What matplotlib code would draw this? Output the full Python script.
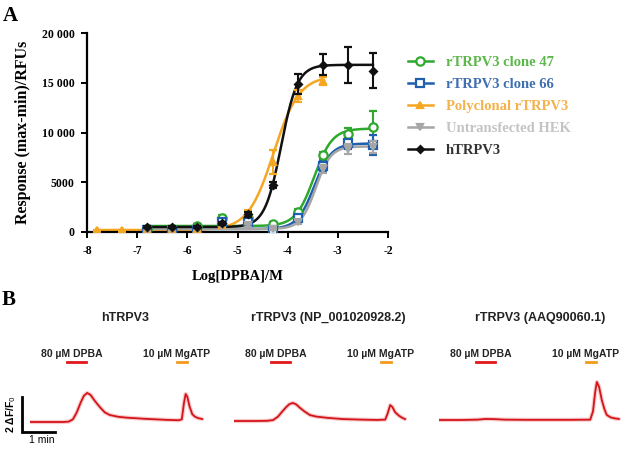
import numpy as np
import matplotlib
matplotlib.use("Agg")
import matplotlib.pyplot as plt
from matplotlib.transforms import blended_transform_factory

# ---------------- Panel A data ----------------
clone47_x = [-6.8, -6.3, -5.8, -5.3, -4.8, -4.3, -3.8, -3.3, -2.8, -2.3]
clone47_y = [300, 300, 600, 1400, 1400, 800, 2000, 7700, 9800, 10600]
clone47_e = [150, 150, 200, 300, 300, 200, 300, 350, 700, 1600]

clone66_x = [-6.8, -6.3, -5.8, -5.3, -4.8, -4.3, -3.8, -3.3, -2.8, -2.3]
clone66_y = [200, 100, 200, 1000, 1000, 250, 1400, 6600, 8900, 8700]
clone66_e = [150, 150, 150, 300, 250, 150, 300, 500, 600, 1000]

poly_x = [-7.8, -7.3, -6.8, -6.3, -5.8, -5.3, -4.8, -4.3, -3.8, -3.3]
poly_y = [200, 200, 250, 250, 300, 700, 1900, 7000, 13700, 15200]
poly_e = [50, 50, 50, 50, 80, 150, 300, 1200, 600, 400]

hek_x = [-6.8, -6.3, -5.8, -5.3, -4.8, -4.3, -3.8, -3.3, -2.8, -2.3]
hek_y = [200, 200, 300, 600, 700, 300, 1000, 6300, 8300, 8500]
hek_e = [100, 100, 100, 150, 150, 100, 200, 400, 500, 600]

h_x = [-6.8, -6.3, -5.8, -5.3, -4.8, -4.3, -3.8, -3.3, -2.8, -2.3]
h_y = [500, 500, 500, 900, 1800, 4700, 14900, 16800, 16800, 16200]
h_e = [100, 100, 100, 150, 250, 300, 1000, 1050, 1800, 1750]

# Fitted Hill parameters: bottom, top, logEC50, hill slope, x range
fit_clone47 = [600, 10400, -3.475, 2.39, -6.8, -2.3]
fit_clone66 = [300, 8900, -3.47, 2.55, -6.8, -2.3]
fit_poly = [200, 15700, -4.28, 1.7, -7.8, -3.3]
fit_hek = [300, 8600, -3.44, 2.9, -6.8, -2.3]
fit_h = [500, 16800, -4.13, 2.67, -6.8, -2.3]

labels = ["rTRPV3 clone 47", "rTRPV3 clone 66", "Polyclonal rTRPV3",
          "Untransfected HEK", "hTRPV3"]
colors = ["#2fa82f", "#1f5fae", "#f5a623", "#a6a6a6", "#111111"]
text_colors = ["#5cb84a", "#3f6fb0", "#f3b24a", "#c4c4c4", "#333333"]

yticks = [0, 5000, 10000, 15000, 20000]
yticklabels = ["0", "5000", "10 000", "15 000", "20 000"]
xticks = [-8, -7, -6, -5, -4, -3, -2]

# ---------------- Panel B data ----------------
panel_titles = ["hTRPV3", "rTRPV3 (NP_001020928.2)", "rTRPV3 (AAQ90060.1)"]

t1 = [0, 20, 40, 60, 70, 78, 85, 92, 98, 104, 110, 118, 127, 136, 145, 160, 175, 190,
      210, 230, 250, 270, 276, 280, 283, 286, 290, 295, 300, 306, 313]
f1 = [0, 0, 0, 0, 0.02, 0.15, 0.55, 1.1, 1.5, 1.66, 1.55, 1.2, 0.85, 0.55, 0.4, 0.3, 0.25, 0.22,
      0.18, 0.15, 0.12, 0.1, 0.15, 1.1, 1.6, 1.45, 0.9, 0.45, 0.3, 0.22, 0.17]

t2 = [0, 20, 40, 60, 71, 80, 88, 95, 101, 107, 113, 120, 128, 138, 150, 170, 198, 230,
      260, 275, 279, 284, 288, 293, 300, 306, 311]
f2 = [0, 0, 0, 0.01, 0.05, 0.25, 0.55, 0.8, 0.97, 1.03, 0.95, 0.75, 0.55, 0.34, 0.25, 0.18, 0.11, 0.08,
      0.06, 0.08, 0.4, 0.91, 0.8, 0.5, 0.3, 0.18, 0.11]

t3 = [0, 40, 70, 85, 100, 120, 160, 200, 240, 275, 280, 284, 287, 291, 296, 301, 305, 312, 320, 327]
f3 = [0, 0, 0.02, 0.06, 0.05, 0.02, 0.01, 0.01, 0.01, 0.02, 0.5, 1.6, 2.17, 1.9, 1.14, 0.6, 0.29, 0.15, 0.09, 0.06]

dpba_on = [67, 102]
atp_on = [268, 286]
stim_labels = ["80 \u00b5M DPBA", "10 \u00b5M MgATP"]
stim_label_t = [76, 267]

# ---------------- Figure ----------------
W, H = 630, 454
fig = plt.figure(figsize=(W / 100, H / 100), dpi=100)

def fx(px):
    return px / W

def fy(py):
    return 1 - py / H

serif = "Liberation Serif"
sans = "Liberation Sans"

ax = fig.add_axes([fx(87), fy(232), fx(388) - fx(87), fy(33) - fy(232)])

def hill(p):
    b, t, ec, h, x0, x1 = p
    xs = np.linspace(x0, x1, 300)
    return xs, b + (t - b) / (1 + 10 ** ((ec - xs) * h))

series = [
    (clone47_x, clone47_y, clone47_e, fit_clone47, "o", "white"),
    (clone66_x, clone66_y, clone66_e, fit_clone66, "s", "white"),
    (poly_x, poly_y, poly_e, fit_poly, "^", None),
    (hek_x, hek_y, hek_e, fit_hek, "v", None),
    (h_x, h_y, h_e, fit_h, "D", None),
]
order = [3, 1, 0, 2, 4]
handles = [None] * 5
for i in order:
    xs, ys, es, fp, mk, mfc = series[i]
    c = colors[i]
    cx, cy = hill(fp)
    ax.plot(cx, cy, color=c, lw=1.8, zorder=2 + i * 0.1)
    ms = 6 if mk in "os" else (5 if mk in "^v" else 3.5)
    ax.errorbar(xs, ys, yerr=es, fmt=mk, color=c, ms=ms,
                mfc=(mfc if mfc else c), mec=c, mew=1.6,
                ecolor=c, elinewidth=1.5, capsize=3, capthick=1.5,
                zorder=3 + i * 0.1)
    (h,) = ax.plot([], [], color=c, lw=1.8, marker=mk, ms=ms,
                   mfc=(mfc if mfc else c), mec=c, mew=1.6)
    handles[i] = h

ax.set_xlim(-8, -2)
ax.set_ylim(0, 20000)
ax.set_xticks(xticks)
ax.set_xticklabels([str(v) for v in xticks], fontfamily=serif, fontweight="bold", fontsize=8.5)
ax.set_yticks(yticks)
ax.set_yticklabels(yticklabels, fontfamily=serif, fontweight="bold", fontsize=8.5)
for s in ["top", "right"]:
    ax.spines[s].set_visible(False)
for s in ["left", "bottom"]:
    ax.spines[s].set_linewidth(1.6)
ax.tick_params(direction="out", length=4, width=1.4, pad=5)
ax.set_xlabel("Log[DPBA]/M", fontfamily=serif, fontweight="bold", fontsize=10.5, labelpad=10)
ax.set_ylabel("Response (max-min)/RFUs", fontfamily=serif, fontweight="bold", fontsize=11.5, labelpad=8)

leg = fig.legend(handles, labels, loc="upper left", bbox_to_anchor=(fx(408), fy(56)),
                 frameon=False, handlelength=1.7, handletextpad=0.9, labelspacing=0.6,
                 borderpad=0, borderaxespad=0,
                 prop={"family": serif, "weight": "bold", "size": 10.5})
for txt, c in zip(leg.get_texts(), text_colors):
    txt.set_color(c)

fig.text(fx(10), fy(16), "A", fontfamily=serif, fontweight="bold", fontsize=15, ha="center", va="center")
fig.text(fx(9), fy(300), "B", fontfamily=serif, fontweight="bold", fontsize=15, ha="center", va="center")

# ---------------- Panel B ----------------
px_per_s = 33 / 60.0
lefts = [30, 234, 439]
baselines = [422, 421, 420]
title_x = [125, 328, 540]
traces = [(t1, f1), (t2, f2), (t3, f3)]
for k in range(3):
    x0 = lefts[k]
    base = baselines[k]
    bx = fig.add_axes([fx(x0), fy(base + 0.5 * 17.5), 330 * px_per_s / W, 3 * 17.5 / H])
    bx.set_xlim(0, 330)
    bx.set_ylim(-0.5, 2.5)
    bx.axis("off")
    tt, ff = traces[k]
    bx.plot(tt, ff, color="#f2a5a5", lw=3.0, alpha=0.6, solid_capstyle="round")
    bx.plot(tt, ff, color="#d4141a", lw=1.3)
    tr = blended_transform_factory(bx.transData, fig.transFigure)
    bx.plot(dpba_on, [fy(362)] * 2, color="#e0181b", lw=2.0, transform=tr, clip_on=False)
    bx.plot(atp_on, [fy(362)] * 2, color="#f39a1e", lw=2.0, transform=tr, clip_on=False)
    for lab, tl in zip(stim_labels, stim_label_t):
        bx.text(tl, fy(354), lab, transform=tr, ha="center", va="center",
                fontfamily=sans, fontweight="bold", fontsize=7.5, color="#222222")
    fig.text(fx(title_x[k]), fy(318), panel_titles[k], ha="center", va="center",
             fontfamily=sans, fontweight="bold", fontsize=9, color="#222222")
    if k == 0:
        # scale bar: 2 dF/F0 vertical, 1 min horizontal
        sx = -14.5
        bx.plot([sx, sx, sx + 60], [1.43, -0.57, -0.57], color="black", lw=2.0,
                clip_on=False, solid_joinstyle="miter")
        bx.text(sx - 20, 0.43, "2 \u0394F/F$_0$", rotation=90, ha="center", va="center",
                fontfamily=sans, fontweight="bold", fontsize=7.5)
        bx.text(sx + 36, -1.05, "1 min", ha="center", va="center",
                fontfamily=sans, fontsize=7.5)

fig.savefig("out.png", dpi=100)
